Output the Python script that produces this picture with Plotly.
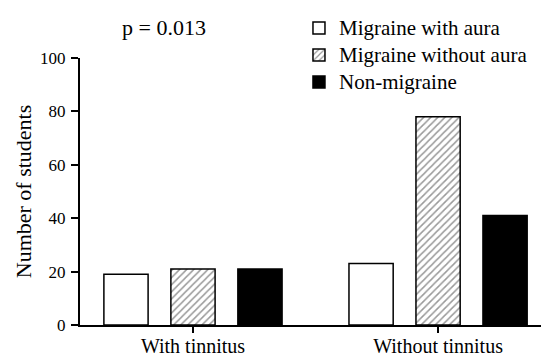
import plotly.graph_objects as go

categories = ["With tinnitus", "Without tinnitus"]
series_names = ["Migraine with aura", "Migraine without aura", "Non-migraine"]
with_aura = [19, 23]
without_aura = [21, 78]
non_migraine = [21, 41]
y_ticks = [0, 20, 40, 60, 80, 100]

FONT = "Times New Roman"


def legend_label(text):
    return '<span style="font-size:21px">' + text + "</span>"


fig = go.Figure()
fig.add_trace(go.Bar(
    name=legend_label(series_names[0]), x=categories, y=with_aura,
    marker=dict(color="white", line=dict(color="black", width=1.5)),
    legendgroup="a",
))
fig.add_trace(go.Bar(
    name=legend_label(series_names[1]), x=categories, y=without_aura,
    marker=dict(color="white", line=dict(color="black", width=1.5),
                pattern=dict(shape="/", fgcolor="#333333", bgcolor="white",
                             size=5, solidity=0.3)),
    legendgroup="b",
))
fig.add_trace(go.Bar(
    name=legend_label(series_names[2]), x=categories, y=non_migraine,
    marker=dict(color="black", line=dict(color="black", width=1.5)),
    legendgroup="c",
))

fig.update_layout(
    width=541, height=356,
    margin=dict(l=80, r=0, t=58, b=31, autoexpand=False),
    paper_bgcolor="white", plot_bgcolor="white",
    font=dict(family=FONT, size=20, color="black"),
    barmode="group", bargap=0.18, bargroupgap=0.34,
    showlegend=True,
    legend=dict(x=0.475, xanchor="left", y=1.182, yanchor="top",
                bgcolor="rgba(0,0,0,0)", font=dict(size=18.5, family=FONT),
                traceorder="normal", tracegroupgap=0,
                itemclick=False),
    xaxis=dict(
        range=[-0.461, 1.42], showline=True, linecolor="black", linewidth=2,
        ticks="outside", ticklen=6, tickwidth=2, tickcolor="black",
        showgrid=False, zeroline=False, tickfont=dict(size=20, family=FONT),
        ticklabelstandoff=-4,
    ),
    yaxis=dict(
        range=[0, 100], tickvals=y_ticks, showline=True, linecolor="black",
        linewidth=2, ticks="outside", ticklen=7, tickwidth=2, tickcolor="black",
        showgrid=False, zeroline=False, tickfont=dict(size=17, family=FONT),
        ticklabelstandoff=2,
        title=dict(text="Number of students", standoff=2,
                   font=dict(size=22, family=FONT)),
    ),
    annotations=[dict(text="p = 0.013", x=0.182, y=1.116, xref="paper",
                      yref="paper", showarrow=False, xanchor="center",
                      yanchor="middle", font=dict(size=22, family=FONT))],
)

fig.write_html("out.html", config={"displayModeBar": False},
               post_script="document.body.style.margin='0';")
